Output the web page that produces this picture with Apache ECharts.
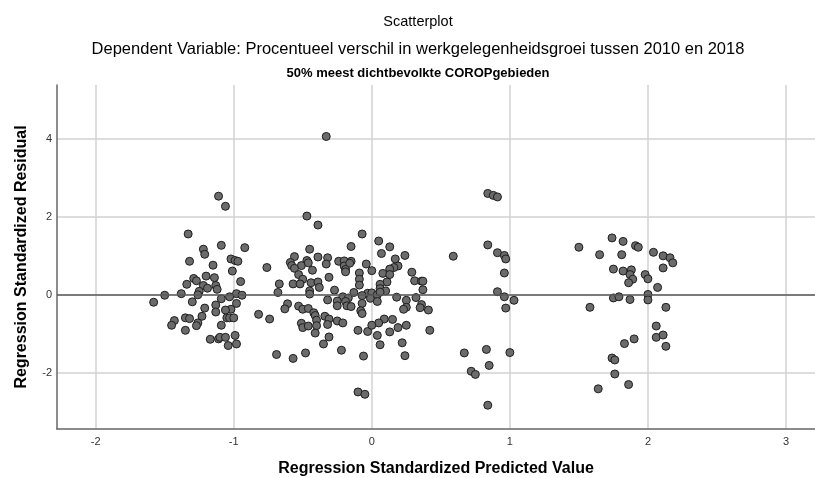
<!DOCTYPE html>
<html>
<head>
<meta charset="utf-8">
<script src="https://cdn.jsdelivr.net/npm/echarts@6/dist/echarts.min.js"></script>
<style>
  html, body { margin: 0; padding: 0; background: #fff; }
  #chart { width: 815px; height: 478px; }
</style>
</head>
<body>
<div id="chart"></div>
<script>
// [predicted, residual] pairs, one array per cluster
const clusterLow = [
  [-1.11, 2.53], [-1.06, 2.27], [-1.33, 1.56], [-1.09, 1.27], [-1.22, 1.17], [-1.21, 1.04],
  [-0.92, 1.21], [-1.32, 0.86], [-1.15, 0.76], [-1.02, 0.92], [-0.99, 0.88], [-0.97, 0.86],
  [-0.76, 0.70], [-1.01, 0.61], [-1.29, 0.42], [-1.27, 0.36], [-1.20, 0.48], [-1.14, 0.44],
  [-0.95, 0.34], [-1.34, 0.27], [-1.22, 0.24], [-1.13, 0.24], [-1.19, 0.17], [-1.12, 0.14],
  [-1.25, 0.09], [-1.26, 0.00], [-1.50, -0.01], [-1.38, 0.03], [-0.98, 0.03], [-0.94, -0.01],
  [-1.03, -0.05], [-1.09, -0.10], [-1.58, -0.19], [-1.30, -0.18], [-0.98, -0.22], [-1.13, -0.26],
  [-1.21, -0.34], [-1.02, -0.37], [-1.06, -0.39], [-1.13, -0.44], [-0.82, -0.50], [-0.74, -0.62],
  [-1.23, -0.55], [-1.35, -0.59], [-1.32, -0.61], [-1.43, -0.66], [-1.45, -0.78], [-1.05, -0.59],
  [-1.03, -0.59], [-1.00, -0.59], [-1.26, -0.72], [-1.27, -0.79], [-1.09, -0.78], [-1.35, -0.91],
  [-0.99, -1.04], [-1.17, -1.14], [-1.11, -1.13], [-1.10, -1.09], [-1.06, -1.09], [-1.04, -1.30],
  [-0.98, -1.26], [-0.69, -1.53]
];

const clusterMid = [
  [-0.33, 4.06], [-0.47, 2.02], [-0.39, 1.79], [-0.07, 1.56], [-0.15, 1.24], [-0.45, 1.17],
  [-0.56, 0.98], [-0.39, 0.97], [-0.32, 0.95], [-0.47, 0.88], [-0.59, 0.83], [-0.24, 0.86],
  [-0.20, 0.87], [-0.15, 0.86], [-0.58, 0.75], [-0.51, 0.75], [-0.46, 0.82], [-0.33, 0.79],
  [-0.20, 0.74], [-0.16, 0.81], [-0.04, 0.79], [-0.56, 0.68], [-0.43, 0.63], [-0.19, 0.65],
  [-0.19, 0.59], [0.00, 0.62], [-0.09, 0.56], [-0.53, 0.52], [-0.31, 0.45], [-0.09, 0.40],
  [-0.50, 0.40], [-0.67, 0.28], [-0.57, 0.28], [-0.52, 0.28], [-0.44, 0.31], [-0.39, 0.33],
  [-0.38, 0.19], [-0.09, 0.25], [-0.27, 0.12], [-0.68, 0.06], [-0.45, 0.10], [-0.45, 0.02],
  [-0.13, 0.06], [-0.03, 0.04], [0.00, 0.05], [-0.21, -0.05], [-0.17, -0.08], [-0.07, -0.02],
  [-0.32, -0.13], [-0.25, -0.16], [-0.19, -0.17], [-0.01, -0.09], [-0.07, -0.22], [-0.61, -0.23],
  [-0.63, -0.36], [-0.53, -0.29], [-0.50, -0.37], [-0.46, -0.35], [-0.25, -0.28], [-0.18, -0.28],
  [-0.15, -0.30], [-0.42, -0.46], [-0.41, -0.53], [-0.40, -0.65], [-0.34, -0.55], [-0.31, -0.62],
  [-0.08, -0.41], [-0.07, -0.48], [-0.51, -0.73], [-0.50, -0.84], [-0.46, -0.80], [-0.40, -0.79],
  [-0.32, -0.76], [-0.25, -0.67], [-0.21, -0.72], [-0.41, -0.98], [-0.10, -0.91], [-0.03, -0.94],
  [-0.31, -1.08], [-0.35, -1.26], [-0.57, -1.63], [-0.48, -1.49], [-0.22, -1.42], [-0.06, -1.57],
  [-0.10, -2.49], [-0.05, -2.55],
  [0.05, 1.38], [0.13, 1.23], [0.07, 1.06], [0.24, 1.01], [0.17, 0.92], [0.19, 0.74],
  [0.16, 0.70], [0.13, 0.66], [0.08, 0.55], [0.13, 0.52], [0.29, 0.58], [0.31, 0.36],
  [0.36, 0.35], [0.37, 0.35], [0.37, 0.13], [0.11, 0.33], [0.06, 0.27], [0.06, 0.16],
  [0.10, 0.10], [0.04, 0.00], [0.06, 0.07], [0.18, -0.06], [0.04, -0.17], [0.25, -0.14],
  [0.32, -0.07], [0.36, -0.25], [0.35, -0.33], [0.41, -0.39], [0.25, -0.32], [0.23, -0.37],
  [0.09, -0.62], [0.15, -0.63], [0.05, -0.72], [0.00, -0.78], [0.19, -0.84], [0.25, -0.78],
  [0.13, -0.95], [0.42, -0.91], [0.04, -1.04], [0.06, -1.28], [0.22, -1.23], [0.24, -1.56]
];

const clusterHigh = [
  [0.84, 2.60], [0.88, 2.55], [0.91, 2.51], [0.84, 1.28], [0.59, 0.99], [0.91, 1.08],
  [0.96, 1.01], [0.97, 0.92], [0.96, 0.56], [0.91, 0.08], [0.96, -0.05], [1.03, -0.14],
  [0.97, -0.34], [0.67, -1.49], [0.83, -1.40], [1.00, -1.48], [0.85, -1.81], [0.72, -1.96],
  [0.75, -2.04], [0.84, -2.83]
];

const clusterTop = [
  [1.50, 1.22], [1.74, 1.46], [1.82, 1.37], [1.91, 1.26], [1.93, 1.22], [1.65, 1.03],
  [1.81, 1.03], [2.04, 1.09], [2.11, 1.00], [2.16, 0.95], [2.18, 0.82], [2.11, 0.69],
  [1.75, 0.66], [1.82, 0.61], [1.88, 0.64], [1.87, 0.52], [1.98, 0.52], [2.00, 0.41],
  [1.89, 0.40], [1.86, 0.31], [2.07, 0.19], [1.75, -0.08], [1.79, -0.05], [1.87, -0.12],
  [2.00, 0.01], [2.00, -0.13], [1.58, -0.32], [2.13, -0.32], [2.06, -0.80], [2.06, -1.09],
  [2.11, -1.03], [1.90, -1.13], [1.83, -1.25], [2.13, -1.32], [1.74, -1.62], [1.76, -1.67],
  [1.76, -2.03], [1.86, -2.30], [1.64, -2.41]
];

const xRange = [-2.28, 3.21];
const yRange = [-3.44, 5.38];
const referenceY = 0;

const FONT = '"Liberation Sans", Arial, sans-serif';
// the SPSS titles are centred on the full (wider) chart, not on this crop
const TITLE_X = 418;

const chart = echarts.init(document.getElementById('chart'), null, { renderer: 'canvas' });

const points = clusterLow.concat(clusterMid, clusterHigh, clusterTop);

const titleText = (text, y, font) => ({
  type: 'text',
  x: TITLE_X,
  y: y,
  style: {
    text: text,
    font: font,
    fill: '#000',
    align: 'center',
    verticalAlign: 'middle'
  }
});

const option = {
  backgroundColor: '#ffffff',
  animation: false,
  textStyle: { fontFamily: FONT },
  graphic: [
    titleText('Scatterplot', 22, 'normal 14.5px ' + FONT),
    titleText('Dependent Variable: Procentueel verschil in werkgelegenheidsgroei tussen 2010 en 2018', 49, 'normal 16.5px ' + FONT),
    titleText('50% meest dichtbevolkte COROPgebieden', 73.5, 'bold 13px ' + FONT)
  ],
  grid: {
    left: 57,
    right: 0,
    top: 85,
    bottom: 49,
    outerBoundsMode: 'none'
  },
  xAxis: {
    type: 'value',
    min: xRange[0],
    max: xRange[1],
    name: 'Regression Standardized Predicted Value',
    nameLocation: 'middle',
    nameGap: 32,
    nameTextStyle: { fontSize: 16, fontWeight: 'bold', color: '#000', fontFamily: FONT },
    axisLine: { show: true, onZero: false, lineStyle: { color: '#666', width: 1.5 } },
    axisTick: { show: false },
    axisLabel: {
      showMinLabel: false, showMaxLabel: false,
      margin: 7, fontSize: 11, color: '#333', fontFamily: FONT
    },
    splitLine: {
      show: true, showMinLine: false, showMaxLine: false,
      lineStyle: { color: '#d2d2d2', width: 1.5 }
    }
  },
  yAxis: {
    type: 'value',
    min: yRange[0],
    max: yRange[1],
    name: 'Regression Standardized Residual',
    nameLocation: 'middle',
    nameGap: 27,
    nameTextStyle: { fontSize: 16, fontWeight: 'bold', color: '#000', fontFamily: FONT },
    axisLine: { show: true, onZero: false, lineStyle: { color: '#666', width: 1.5 } },
    axisTick: { show: false },
    axisLabel: {
      showMinLabel: false, showMaxLabel: false,
      margin: 5, fontSize: 11, color: '#333', fontFamily: FONT
    },
    splitLine: {
      show: true, showMinLine: false, showMaxLine: false,
      lineStyle: { color: '#d2d2d2', width: 1.5 }
    }
  },
  series: [{
    type: 'scatter',
    data: points,
    symbol: 'circle',
    symbolSize: 8,
    itemStyle: {
      color: '#6b6b6b',
      borderColor: '#1e1e1e',
      borderWidth: 1,
      opacity: 1
    },
    markLine: {
      silent: true,
      symbol: 'none',
      label: { show: false },
      lineStyle: { color: '#5a5a5a', width: 1.5, type: 'solid' },
      data: [{ yAxis: referenceY }]
    },
    z: 3
  }]
};

chart.setOption(option);
</script>
</body>
</html>
